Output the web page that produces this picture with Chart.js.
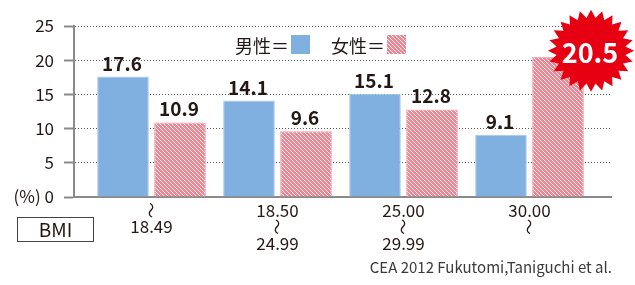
<!DOCTYPE html>
<html>
<head>
<meta charset="utf-8">
<script src="https://cdn.jsdelivr.net/npm/chart.js@4.4.1/dist/chart.umd.min.js"></script>
<style>
    html, body { margin: 0; padding: 0; background: #fff; }
    #wrap { width: 635px; height: 285px; position: relative; }
</style>
</head>
<body>
<div id="wrap"><canvas id="chart" width="635" height="285"></canvas></div>
<script>
const WAVE = '〜';
const bmiRanges = [[WAVE, '18.49'], ['18.50', WAVE, '24.99'], ['25.00', WAVE, '29.99'], ['30.00', WAVE]];
const maleValues = [17.6, 14.1, 15.1, 9.1];
const femaleValues = [10.9, 9.6, 12.8, 20.5];
const yTicks = [0, 5, 10, 15, 20, 25];
const seriesNames = ['男性＝', '女性＝'];
const highlightIndex = 3;   // female 30.00~ gets the red burst
const citation = 'CEA 2012 Fukutomi,Taniguchi et al.';

const FONT = '"Noto Sans CJK JP", "Noto Sans", sans-serif';
const TEXT = '#231815';
const AXIS = '#8a8a8a';
const X_FONT_SIZE = 17, X_LINE = 0.97, X_PAD = 5;

function makeHatch(){
    const c = document.createElement('canvas');
    c.width = 4; c.height = 4;
    const g = c.getContext('2d');
    g.fillStyle = '#ee8794';
    g.fillRect(0, 0, 4, 4);
    g.strokeStyle = '#ffffff';
    g.lineWidth = 0.9;
    g.beginPath();
    g.moveTo(-1, -1); g.lineTo(5, 5);
    g.moveTo(-1, 3); g.lineTo(1, 5);
    g.moveTo(3, -1); g.lineTo(5, 1);
    g.stroke();
    return g.createPattern(c, 'repeat');
}
const hatch = makeHatch();
const blue = '#80b0df';

function drawBurst(ctx, cx, cy, rOut, rIn, spikes){
    ctx.beginPath();
    for (let i = 0; i < spikes * 2; i++) {
        const r = i % 2 === 0 ? rOut : rIn;
        const a = -Math.PI / 2 + i * Math.PI / spikes;
        const px = cx + Math.cos(a) * r * 1.05;
        const py = cy + Math.sin(a) * r;
        if (i === 0) ctx.moveTo(px, py); else ctx.lineTo(px, py);
    }
    ctx.closePath();
    ctx.fillStyle = '#e60012';
    ctx.fill();
}

const decorations = {
    id: 'decorations',
    afterDatasetsDraw(chart) {
        const ctx = chart.ctx;
        ctx.save();
        // value labels
        chart.data.datasets.forEach((ds, di) => {
            const meta = chart.getDatasetMeta(di);
            meta.data.forEach((bar, i) => {
                if (di === 1 && i === highlightIndex) return;
                ctx.font = 'bold 19px ' + FONT;
                ctx.fillStyle = TEXT;
                ctx.textAlign = 'center';
                ctx.textBaseline = 'alphabetic';
                ctx.fillText(ds.data[i].toFixed(1), bar.x - 1, bar.y - 6);
            });
        });
        // burst for the highlighted value
        const hb = chart.getDatasetMeta(1).data[highlightIndex];
        const bx = hb.x + 33, by = hb.y - 6;
        drawBurst(ctx, bx, by, 41, 33, 24);
        ctx.font = 'bold 27px ' + FONT;
        ctx.fillStyle = '#ffffff';
        ctx.textAlign = 'center';
        ctx.textBaseline = 'middle';
        ctx.fillText(femaleValues[highlightIndex].toFixed(1), bx - 1, by + 2);

        // vertical "〜" marks in the BMI range labels
        const xs = chart.scales.x;
        bmiRanges.forEach((lines, i) => {
            lines.forEach((s, k) => {
                if (s !== WAVE) return;
                const tx = xs.getPixelForValue(i);
                const ty = xs.top + X_PAD + X_FONT_SIZE * X_LINE * (k + 0.5);
                ctx.save();
                ctx.translate(tx, ty);
                ctx.rotate(Math.PI / 2);
                ctx.font = '16px ' + FONT;
                ctx.fillStyle = TEXT;
                ctx.textAlign = 'center';
                ctx.textBaseline = 'middle';
                ctx.fillText(WAVE, 0, 0);
                ctx.restore();
            });
        });

        // legend
        ctx.font = '18px ' + FONT;
        ctx.textAlign = 'left';
        ctx.textBaseline = 'middle';
        const legendX = [235, 331];
        const fills = [blue, hatch];
        seriesNames.forEach((name, k) => {
            ctx.fillStyle = TEXT;
            ctx.fillText(name, legendX[k], 46);
            const w = ctx.measureText(name).width;
            ctx.fillStyle = fills[k];
            ctx.fillRect(legendX[k] + w + 2, 35, 19, 19);
        });

        // BMI box
        ctx.strokeStyle = '#444';
        ctx.lineWidth = 1;
        ctx.strokeRect(17.5, 217.5, 76, 24);
        ctx.fillStyle = TEXT;
        ctx.font = '19px ' + FONT;
        ctx.textAlign = 'center';
        ctx.fillText('BMI', 55.5, 230);

        // citation
        ctx.font = '15px ' + FONT;
        ctx.fillStyle = '#3a3a3a';
        ctx.textAlign = 'right';
        ctx.fillText(citation, 612, 267);
        ctx.restore();
    }
};

const AREA_LEFT = 74, AREA_RIGHT = 611, AREA_TOP = 26, AREA_BOTTOM = 197;
const FIRST_CENTER = 151.5, STEP = 126;

new Chart(document.getElementById('chart'), {
    type: 'bar',
    data: {
        labels: [0, 1, 2, 3],
        datasets: [
            {
                label: seriesNames[0],
                data: maleValues,
                backgroundColor: blue,
                borderColor: '#a6c7ea',
                borderWidth: 1,
                categoryPercentage: 0.905,
                barPercentage: 0.905
            },
            {
                label: seriesNames[1],
                data: femaleValues,
                backgroundColor: hatch,
                borderColor: '#f09aa5',
                borderWidth: 1,
                categoryPercentage: 0.905,
                barPercentage: 0.905
            }
        ]
    },
    options: {
        responsive: false,
        animation: false,
        layout: { padding: { left: 0, top: AREA_TOP, right: 635 - AREA_RIGHT, bottom: 0 } },
        plugins: {
            legend: { display: false },
            tooltip: { enabled: false }
        },
        scales: {
            x: {
                type: 'linear',
                offset: false,
                bounds: 'data',
                min: -(FIRST_CENTER - AREA_LEFT) / STEP,
                max: (AREA_RIGHT - FIRST_CENTER) / STEP,
                afterBuildTicks: scale => { scale.ticks = bmiRanges.map((r, i) => ({ value: i })); },
                afterFit: scale => { scale.height = 285 - AREA_BOTTOM; },
                grid: { display: false, drawTicks: false, offset: false },
                border: { display: true, color: AXIS, width: 2 },
                ticks: {
                    autoSkip: false,
                    maxRotation: 0,
                    padding: X_PAD,
                    color: TEXT,
                    font: { family: FONT, size: X_FONT_SIZE, lineHeight: X_LINE },
                    callback: v => bmiRanges[v].map(s => s === WAVE ? '' : s)
                }
            },
            y: {
                min: 0,
                max: 25,
                afterBuildTicks: scale => { scale.ticks = yTicks.map(v => ({ value: v })); },
                afterFit: scale => { scale.width = AREA_LEFT; },
                grid: {
                    color: '#5a5a5a',
                    lineWidth: 1,
                    drawTicks: true,
                    tickLength: 10,
                    tickColor: AXIS,
                    tickWidth: 2,
                    tickBorderDash: []
                },
                border: { display: true, color: AXIS, width: 2, dash: [1, 2] },
                ticks: {
                    padding: 10,
                    color: TEXT,
                    font: { family: FONT, size: 17 },
                    callback: v => v === 0 ? '(%) 0' : String(v)
                }
            }
        }
    },
    plugins: [decorations]
});
</script>
</body>
</html>
